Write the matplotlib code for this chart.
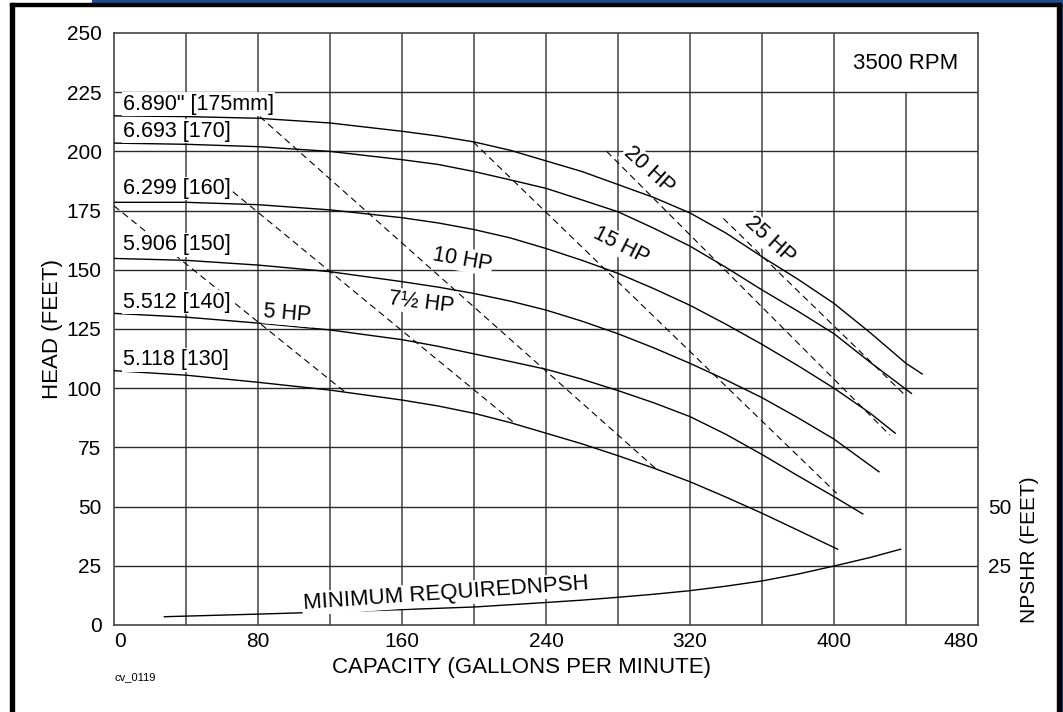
import matplotlib
matplotlib.use("Agg")
import matplotlib.pyplot as plt
from matplotlib.patches import Rectangle

plt.rcParams['font.family'] = ['Liberation Sans', 'DejaVu Sans']

# impeller curves: capacity (gpm) and head (ft)
q_175 = [0, 40, 80, 120, 160, 180, 200, 220, 240, 260, 280, 300, 320, 340, 360, 380, 400, 420, 440, 449]
h_175 = [215, 214.7, 214, 212, 208.5, 206.5, 204, 200.5, 196, 191.5, 186, 180.5, 174, 165.5, 155.5, 146, 135.8, 123.5, 110.5, 106]
q_170 = [0, 40, 80, 120, 160, 180, 200, 220, 240, 260, 280, 300, 320, 340, 360, 380, 400, 420, 443]
h_170 = [203.5, 203, 202, 200, 196.5, 194.5, 191.5, 188, 184.4, 179.5, 174.5, 167.5, 160, 151, 141.5, 132.5, 123, 111, 97.8]
q_160 = [0, 40, 80, 120, 160, 180, 200, 220, 240, 260, 280, 300, 320, 340, 360, 380, 400, 420, 434]
h_160 = [178.5, 178.5, 177.5, 175.3, 172, 169.8, 167, 163.5, 159, 154, 148.5, 142, 135, 127, 118.5, 109.5, 100, 89.5, 81]
q_150 = [0, 40, 80, 120, 160, 180, 200, 220, 240, 260, 280, 300, 320, 340, 360, 380, 400, 425]
h_150 = [154.8, 154, 152, 149.2, 145, 142.7, 140, 136.8, 133, 128.3, 123, 117, 110.5, 103.5, 96, 87.5, 78.5, 64.7]
q_140 = [0, 40, 80, 120, 160, 180, 200, 220, 240, 260, 280, 300, 320, 340, 360, 380, 400, 416]
h_140 = [131.6, 130, 127.5, 124.6, 120.5, 117.7, 114.5, 111.3, 108, 103.8, 99, 93.8, 88, 80.5, 72, 63, 54.2, 46.9]
q_130 = [0, 40, 80, 120, 160, 180, 200, 220, 240, 260, 280, 300, 320, 340, 360, 380, 402]
h_130 = [107.4, 105.5, 102.5, 99.2, 95, 92.5, 89.4, 85.5, 81, 76.5, 71.5, 66.2, 60.5, 54, 47.2, 40, 32]

curves = [(q_175, h_175), (q_170, h_170), (q_160, h_160),
          (q_150, h_150), (q_140, h_140), (q_130, h_130)]
curve_labels = ['6.890" [175mm]', '6.693 [170]', '6.299 [160]',
                '5.906 [150]', '5.512 [140]', '5.118 [130]']
label_heads = [220, 208.6, 184.3, 160.5, 136.4, 112]

# horsepower lines (start / end points)
hp_names = ['5 HP', '7½ HP', '10 HP', '15 HP', '20 HP', '25 HP']
hp_q = [(0, 129.3), (66, 223.7), (81, 300.6), (199.6, 401.5), (273.7, 431), (338.5, 439.4)]
hp_h = [(177, 97.8), (183, 84.5), (214.7, 66.3), (204, 55.6), (200, 80.2), (171.7, 97.1)]
hp_label_q = [96.4, 170.8, 193.3, 281.7, 297, 364.4]
hp_label_h = [131.5, 136.2, 154.4, 160.3, 192.1, 162.6]
hp_label_rot = [-5, -7, -10, -27, -42, -42]

# minimum required NPSH
q_npsh = [28, 80, 120, 160, 200, 240, 260, 280, 300, 320, 340, 360, 380, 400, 420, 437]
h_npsh = [3.5, 4.6, 5.5, 6.5, 7.6, 9.5, 10.5, 11.7, 13, 14.5, 16.4, 18.6, 21.5, 24.9, 28.5, 32]

x_ticks = [0, 80, 160, 240, 320, 400, 480]
y_ticks = [0, 25, 50, 75, 100, 125, 150, 175, 200, 225, 250]

W, H = 1063, 712
fig = plt.figure(figsize=(W / 100, H / 100), dpi=100)
ax = fig.add_axes([114 / W, 1 - 625 / H, 864 / W, 592 / H])
ax.set_xlim(0, 480)
ax.set_ylim(0, 250)

# grid drawn by hand (440 line stops under the RPM box)
for q in range(40, 480, 40):
    top = 225 if q == 440 else 250
    ax.vlines(q, 0, top, color='#6a6a6a', lw=1.4, zorder=1)
for h in range(25, 250, 25):
    ax.hlines(h, 0, 480, color='#2a2a2a', lw=1.0, zorder=1)
for s in ax.spines.values():
    s.set_color('#444444')
    s.set_linewidth(1.2)

for (q, h) in curves:
    ax.plot(q, h, color='black', lw=1.0, zorder=3)

for (q, h) in zip(hp_q, hp_h):
    ax.plot(q, h, color='black', lw=0.8, ls=(0, (6, 4)), zorder=3)

ax.plot(q_npsh, h_npsh, color='black', lw=1.0, zorder=3)

box = dict(facecolor='white', edgecolor='none', pad=1.0)
for name, h in zip(curve_labels, label_heads):
    ax.text(5, h, name, fontsize=15.5, ha='left', va='center', bbox=box, zorder=5)

for name, q, h, r in zip(hp_names, hp_label_q, hp_label_h, hp_label_rot):
    ax.text(q, h, name, fontsize=15.5, ha='center', va='center', rotation=r,
            rotation_mode='anchor', bbox=box, zorder=5)

ax.text(184.5, 13.1, 'MINIMUM REQUIREDNPSH', fontsize=16, ha='center', va='center',
        rotation=4, rotation_mode='anchor', bbox=box, zorder=5)
ax.text(439.7, 237.3, '3500 RPM', fontsize=16, ha='center', va='center', zorder=5)

ax.set_xticks(x_ticks)
ax.set_yticks(y_ticks)
ax.tick_params(axis='both', length=0, labelsize=15)
ax.tick_params(axis='x', pad=5)
ax.tick_params(axis='y', pad=9)
xl = ax.get_xticklabels()
xl[0].set_ha('left')
xl[-1].set_ha('right')

ax2 = ax.twinx()
ax2.set_ylim(0, 250)
ax2.set_yticks([25, 50])
ax2.tick_params(axis='y', length=0, labelsize=15, pad=7)
for s in ax2.spines.values():
    s.set_visible(False)

ax.text(-0.071, 0.5, 'HEAD (FEET)', transform=ax.transAxes, rotation=90,
        fontsize=16, ha='center', va='center')
ax.text(1.060, 0.127, 'NPSHR (FEET)', transform=ax.transAxes, rotation=90,
        fontsize=15, ha='center', va='center')
ax.text(0.472, -0.072, 'CAPACITY (GALLONS PER MINUTE)', transform=ax.transAxes,
        fontsize=16, ha='center', va='center')
ax.text(0.001, -0.088, 'cv_0119', transform=ax.transAxes, fontsize=8,
        ha='left', va='center')

# page frame: blue strip and black border
fig.patches.append(Rectangle((92 / W, 1 - 3 / H), 1 - 92 / W, 3 / H,
                             transform=fig.transFigure, color='#1f4e8c', zorder=0))
fig.patches.append(Rectangle((1061 / W, 0), 2 / W, 1, transform=fig.transFigure,
                             color='#1f4e8c', zorder=0))
fig.patches.append(Rectangle((10 / W, 0), 4 / W, 1 - 3 / H, transform=fig.transFigure,
                             color='black', zorder=0))
fig.patches.append(Rectangle((10 / W, 1 - 6 / H), 1051 / W, 3 / H,
                             transform=fig.transFigure, color='black', zorder=0))
fig.patches.append(Rectangle((1057 / W, 0), 4 / W, 1 - 3 / H, transform=fig.transFigure,
                             color='black', zorder=0))

fig.savefig('out.png', dpi=100)
